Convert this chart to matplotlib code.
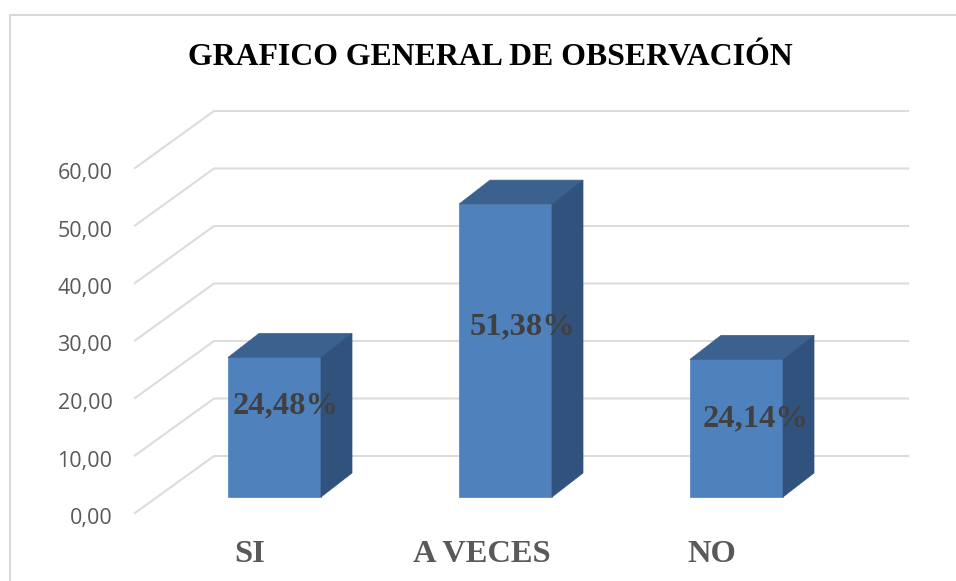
import matplotlib
matplotlib.use("Agg")
import matplotlib.pyplot as plt
from matplotlib.patches import Polygon

categories = ["SI", "A VECES", "NO"]
values = [24.48, 51.38, 24.14]
value_labels = ["24,48%", "51,38%", "24,14%"]
y_ticks = [0, 10, 20, 30, 40, 50, 60]
y_tick_labels = ["0,00", "10,00", "20,00", "30,00", "40,00", "50,00", "60,00"]
title = "GRAFICO GENERAL DE OBSERVACIÓN"

W, H = 956, 581
PX_X = 231.0    # pixels per category
PX_Y = 5.75     # pixels per value unit
X0 = 274.5      # pixel of first bar centre
Y0 = 513.0      # pixel of value 0 on front edge


def px_x(p):
    return (p - X0) / PX_X


def px_y(p):
    return (Y0 - p) / PX_Y


fig = plt.figure(figsize=(W / 100, H / 100), dpi=100)
ax = fig.add_axes([0, 0, 1, 1])
ax.set_xlim(px_x(0), px_x(W))
ax.set_ylim(px_y(H), px_y(0))
ax.axis("off")

# chart frame, only top and left show
ax.plot([px_x(10), px_x(10), px_x(W)], [px_y(H), px_y(14.5), px_y(14.5)],
        color="#d9d9d9", lw=1.5, zorder=1)

# floor + back wall grid lines
depth_x = 79 / PX_X
depth_y = 57 / PX_Y
left = px_x(135)
right = px_x(908)
for v in y_ticks:
    ax.plot([left, left + depth_x, right], [v, v + depth_y, v + depth_y],
            color="#dcdcdc", lw=1.5, solid_joinstyle="miter", zorder=1)

for v, lab in zip(y_ticks, y_tick_labels):
    ax.text(px_x(112.5), v - 5.5 / PX_Y, lab, ha="right", va="center", fontsize=15.5,
            family="Open Sans", color="#595959")

# 3d columns
bar_w = 93 / PX_X
bar_dx = 31 / PX_X
bar_dy = 24 / PX_Y
base = px_y(497)
front_c = "#4f81bd"
top_c = "#3b618f"
side_c = "#31527c"
for i, v in enumerate(values):
    x1 = i - bar_w / 2
    x2 = i + bar_w / 2
    top = base + v * 5.7 / PX_Y
    ax.add_patch(Polygon([(x1, base), (x2, base), (x2, top), (x1, top)],
                         facecolor=front_c, edgecolor=front_c, lw=0.5, zorder=3))
    ax.add_patch(Polygon([(x1, top), (x2, top), (x2 + bar_dx, top + bar_dy), (x1 + bar_dx, top + bar_dy)],
                         facecolor=top_c, edgecolor=top_c, lw=0.5, zorder=3))
    ax.add_patch(Polygon([(x2, base), (x2 + bar_dx, base + bar_dy), (x2 + bar_dx, top + bar_dy), (x2, top)],
                         facecolor=side_c, edgecolor=side_c, lw=0.5, zorder=3))

label_x = [285.5, 522, 755.5]
label_y = [406, 327, 419]
for i, lab in enumerate(value_labels):
    ax.text(px_x(label_x[i]), px_y(label_y[i]), lab, ha="center", va="center",
            fontsize=23.4, fontweight="bold", family="Liberation Serif",
            color="#404040", zorder=4)

cat_x = [250, 481.5, 711.5]
for i, cat in enumerate(categories):
    ax.text(px_x(cat_x[i]), px_y(554), cat, ha="center", va="center",
            fontsize=23.4, fontweight="bold", family="Liberation Serif", color="#595959")

ax.text(px_x(490), px_y(57.5), title, ha="center", va="center", fontsize=22.9,
        fontweight="bold", family="Liberation Serif", color="black")

fig.savefig("out.png", dpi=100)
